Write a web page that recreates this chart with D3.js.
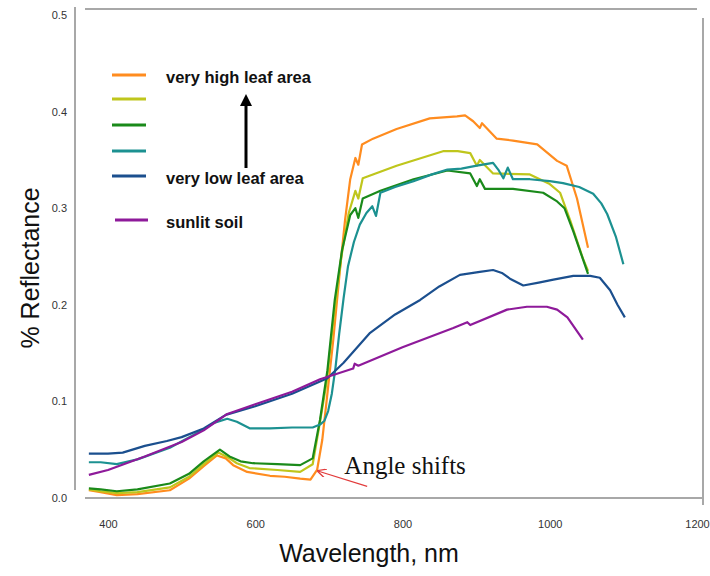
<!DOCTYPE html>
<html>
<head>
<meta charset="utf-8">
<script src="https://cdn.jsdelivr.net/npm/d3@7"></script>
<style>
  body { margin: 0; background: #fff; }
  svg { display: block; font-family: "Liberation Sans", Arial, sans-serif; }
</style>
</head>
<body>
<svg id="chart" width="710" height="576"></svg>
<script>
// tick labels
var X_TICKS = [400, 600, 800, 1000, 1200];
var Y_TICKS = [0.0, 0.1, 0.2, 0.3, 0.4, 0.5];

// series: [wavelength nm, reflectance]
var veryHigh = [[374,0.008],[390,0.006],[412,0.003],[440,0.004],[484,0.008],[510,0.02],[530,0.033],[548,0.044],[560,0.041],[570,0.034],[589,0.027],[620,0.023],[640,0.022],[661,0.02],[675,0.019],[684,0.029],[691,0.06],[697,0.101],[706,0.164],[715,0.236],[722,0.288],[729,0.33],[736,0.352],[740,0.345],[745,0.366],[760,0.372],[792,0.382],[837,0.393],[874,0.395],[885,0.396],[896,0.39],[905,0.383],[908,0.388],[928,0.372],[950,0.37],[983,0.366],[1010,0.349],[1023,0.344],[1037,0.31],[1052,0.259]];
var high = [[374,0.009],[390,0.007],[412,0.005],[440,0.006],[484,0.011],[510,0.022],[530,0.035],[550,0.047],[563,0.042],[575,0.036],[592,0.031],[630,0.029],[661,0.027],[678,0.035],[686,0.07],[697,0.12],[707,0.19],[717,0.25],[727,0.295],[736,0.318],[740,0.31],[746,0.331],[792,0.344],[855,0.359],[875,0.359],[892,0.357],[901,0.344],[905,0.35],[923,0.336],[973,0.335],[1000,0.325],[1014,0.316],[1028,0.287],[1045,0.248],[1052,0.235]];
var medium = [[374,0.010],[390,0.009],[412,0.007],[440,0.009],[484,0.015],[510,0.025],[530,0.038],[552,0.05],[565,0.043],[580,0.038],[597,0.036],[630,0.035],[661,0.034],[678,0.041],[688,0.081],[698,0.132],[708,0.205],[718,0.257],[729,0.293],[736,0.30],[740,0.29],[746,0.31],[770,0.318],[815,0.33],[861,0.339],[892,0.336],[901,0.323],[905,0.33],[912,0.32],[950,0.32],[991,0.316],[1010,0.307],[1020,0.3],[1032,0.276],[1052,0.232]];
var low = [[374,0.037],[390,0.037],[412,0.035],[440,0.04],[484,0.052],[525,0.069],[545,0.078],[562,0.082],[575,0.079],[593,0.072],[620,0.072],[650,0.073],[678,0.073],[688,0.076],[694,0.08],[699,0.09],[704,0.108],[709,0.135],[714,0.17],[720,0.207],[726,0.24],[734,0.265],[742,0.283],[751,0.295],[759,0.302],[764,0.292],[770,0.316],[790,0.322],[815,0.328],[840,0.335],[861,0.34],[880,0.341],[901,0.344],[923,0.347],[930,0.34],[937,0.331],[943,0.342],[950,0.33],[973,0.33],[1000,0.328],[1018,0.326],[1040,0.322],[1059,0.315],[1070,0.305],[1078,0.294],[1090,0.27],[1100,0.242]];
var veryLow = [[374,0.046],[400,0.046],[420,0.047],[450,0.054],[480,0.059],[500,0.063],[530,0.072],[560,0.086],[600,0.095],[650,0.108],[698,0.124],[720,0.14],[756,0.171],[790,0.19],[824,0.205],[850,0.219],[878,0.231],[905,0.234],[923,0.236],[935,0.233],[946,0.227],[964,0.22],[985,0.223],[1005,0.226],[1032,0.23],[1055,0.23],[1068,0.228],[1082,0.215],[1092,0.2],[1102,0.187]];
var soil = [[374,0.024],[400,0.029],[450,0.043],[500,0.058],[530,0.07],[562,0.087],[600,0.097],[650,0.11],[688,0.123],[733,0.134],[735,0.139],[740,0.137],[800,0.156],[869,0.176],[888,0.182],[892,0.179],[942,0.195],[969,0.198],[996,0.198],[1010,0.195],[1024,0.187],[1045,0.164]];

var SERIES = [
  { data: veryHigh, color: "#ff8c1f", label: "very high leaf area" },
  { data: high,     color: "#bfc61c", label: "" },
  { data: medium,   color: "#1a8a1a", label: "" },
  { data: low,      color: "#1c9191", label: "" },
  { data: veryLow,  color: "#1b4f8e", label: "very low leaf area" },
  { data: soil,     color: "#8e1a9a", label: "sunlit soil" }
];
var LEGEND_Y = [75, 99, 125, 151, 176, 220];

var svg = d3.select("#chart");

var x = d3.scaleLinear().domain([400, 1200]).range([108, 697]);
var y = d3.scaleLinear().domain([0, 0.5]).range([498, 15]);

// frame lines
var frame = [[75, 7, 75, 490], [85, 498, 703, 498], [85, 9, 697, 9], [703, 18, 703, 505]];
svg.selectAll("line.frame").data(frame).enter().append("line")
  .attr("class", "frame")
  .attr("x1", d => d[0]).attr("y1", d => d[1])
  .attr("x2", d => d[2]).attr("y2", d => d[3])
  .style("stroke", "#a8a8a8")
  .style("stroke-width", 2);

// axes (labels only)
var xAxis = svg.append("g").attr("transform", "translate(0,517)")
  .call(d3.axisBottom(x).tickValues(X_TICKS).tickSize(0).tickFormat(d3.format("d")));
var yAxis = svg.append("g").attr("transform", "translate(70,0)")
  .call(d3.axisLeft(y).tickValues(Y_TICKS).tickSize(0).tickFormat(d3.format(".1f")));
[xAxis, yAxis].forEach(function (g) {
  g.select(".domain").remove();
  g.selectAll("text")
    .style("font-family", "Liberation Sans, Arial, sans-serif")
    .style("font-size", "11px")
    .style("fill", "#333");
});

// curves
var line = d3.line().x(d => x(d[0])).y(d => y(d[1]));
svg.selectAll("path.series").data(SERIES).enter().append("path")
  .attr("class", "series")
  .attr("d", d => line(d.data))
  .style("fill", "none")
  .style("stroke", d => d.color)
  .style("stroke-width", 2.2)
  .style("stroke-linejoin", "round");

// legend
var leg = svg.selectAll("g.leg").data(SERIES).enter().append("g")
  .attr("class", "leg")
  .attr("transform", (d, i) => "translate(0," + LEGEND_Y[i] + ")");
leg.append("line")
  .attr("x1", (d, i) => i == 5 ? 115 : 112)
  .attr("x2", (d, i) => i == 5 ? 148 : 146)
  .style("stroke", d => d.color)
  .style("stroke-width", 3);
leg.append("text")
  .attr("x", 166)
  .attr("y", 8)
  .text(d => d.label)
  .style("font-size", "16.5px")
  .style("font-weight", "bold")
  .style("fill", "#111");

// black arrow in the legend
var defs = svg.append("defs");
defs.append("marker").attr("id", "blackHead")
  .attr("viewBox", "0 0 10 10").attr("refX", 5).attr("refY", 5)
  .attr("markerWidth", 4).attr("markerHeight", 4).attr("orient", "auto")
  .append("path").attr("d", "M0,0 L10,5 L0,10 z").style("fill", "#000");
svg.append("line")
  .attr("x1", 246).attr("y1", 168).attr("x2", 246).attr("y2", 100)
  .style("stroke", "#000").style("stroke-width", 3)
  .attr("marker-end", "url(#blackHead)");

// "Angle shifts" annotation
defs.append("marker").attr("id", "redHead")
  .attr("viewBox", "0 0 10 10").attr("refX", 9).attr("refY", 5)
  .attr("markerWidth", 9).attr("markerHeight", 9).attr("markerUnits", "userSpaceOnUse")
  .attr("orient", "auto")
  .append("path").attr("d", "M0,0 L10,5 L0,10").style("fill", "none")
  .style("stroke", "#e23b3b").style("stroke-width", 1.5);
svg.append("line")
  .attr("x1", x(752)).attr("y1", y(0.012))
  .attr("x2", x(685)).attr("y2", y(0.028))
  .style("stroke", "#e23b3b").style("stroke-width", 1.2)
  .attr("marker-end", "url(#redHead)");
svg.append("text")
  .attr("x", x(721)).attr("y", 474)
  .text("Angle shifts")
  .style("font-family", "Liberation Serif, Times New Roman, serif")
  .style("font-size", "25px")
  .style("fill", "#111");

// axis titles
svg.append("text")
  .attr("x", 369).attr("y", 562)
  .attr("text-anchor", "middle")
  .text("Wavelength, nm")
  .style("font-size", "25px")
  .style("fill", "#111");
svg.append("text")
  .attr("transform", "translate(39,268) rotate(-90)")
  .attr("text-anchor", "middle")
  .text("% Reflectance")
  .style("font-size", "25px")
  .style("fill", "#111");
</script>
</body>
</html>
